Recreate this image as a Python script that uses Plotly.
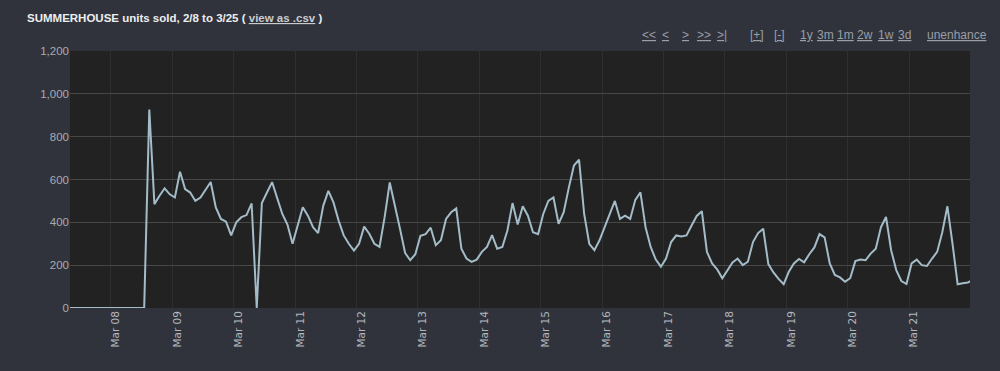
import pandas as pd
import plotly.graph_objects as go

# ---- data (2-hour samples) ----
start_time = "2021-03-07 07:00"
step = "2h"
leading_zeros = [0] * 16
units_sold = [
    927, 485, 524, 559, 531, 516, 636, 555, 539, 500, 516, 554, 588, 470, 416, 403,
    339, 400, 424, 434, 488, 0, 490, 539, 588, 513, 439, 390, 300, 385, 470, 431,
    377, 350, 477, 547, 493, 408, 339, 300, 268, 300, 380, 347, 300, 285, 424, 586,
    470, 370, 257, 223, 251, 337, 345, 375, 293, 316, 416, 447, 465, 277, 231, 215,
    226, 262, 285, 340, 277, 285, 362, 490, 390, 475, 431, 354, 345, 439, 500, 516,
    393, 447, 562, 665, 693, 439, 300, 270, 316, 380, 443, 500, 416, 431, 416, 505,
    540, 377, 285, 226, 193, 231, 308, 339, 334, 339, 385, 430, 452, 262, 208, 180,
    139, 177, 213, 231, 200, 216, 308, 350, 370, 205, 166, 136, 111, 169, 208, 229,
    213, 251, 283, 345, 330, 208, 154, 143, 123, 139, 219, 226, 223, 254, 277, 377,
    425, 270, 177, 126, 112, 208, 226, 200, 196, 231, 262, 354, 475, 300, 111, 116,
    119, 131,
]
values = leading_zeros + units_sold
times = pd.date_range(start_time, periods=len(values), freq=step)

x_range = ["2021-03-07 08:00", "2021-03-21 23:50"]
y_ticks = [0, 200, 400, 600, 800, 1000, 1200]

title_text = "SUMMERHOUSE units sold, 2/8 to 3/25"
nav_links = ["<<", "<", ">", ">>", ">|", "[+]", "[-]", "1y", "3m", "1m", "2w", "1w", "3d", "unenhance"]
nav_px = [649, 665.5, 685.5, 703.5, 722, 756.5, 779, 806.5, 825, 845.5, 865, 885.5, 904, 956.5]

BG = "#30333b"
PLOT_BG = "#222222"
LINE = "#a3bcc8"
TXT = "#a8abb1"

L, R, T, B = 70, 30, 51, 63
PW, PH = 1000 - L - R, 371 - T - B

fig = go.Figure()
fig.add_trace(go.Scatter(
    x=times, y=values, mode="lines",
    line=dict(color=LINE, width=2), hoverinfo="skip", showlegend=False,
))

fig.update_layout(
    width=1000, height=371,
    paper_bgcolor=BG, plot_bgcolor=PLOT_BG,
    margin=dict(l=L, r=R, t=T, b=B),
    font=dict(family="Liberation Sans, Arial, sans-serif", size=11, color=TXT),
    showlegend=False,
)
fig.update_xaxes(
    range=x_range, type="date", dtick=86400000, tick0="2021-03-08",
    tickformat="%b %d", tickangle=-90, ticklabelshift=5,
    showgrid=True, gridcolor="#2f2f2f", gridwidth=1,
    zeroline=False, showline=False, ticks="",
    tickfont=dict(family="DejaVu Sans, sans-serif", size=10.5, color="#b4b7bd"),
)
fig.update_yaxes(
    range=[0, 1200], tickvals=y_ticks, tickformat=",",
    showgrid=True, gridcolor="#474747", gridwidth=1,
    zeroline=False, showline=False, ticks="",
    tickfont=dict(size=11.5, color=TXT),
)

fig.add_annotation(
    x=(25 - L) / PW, y=1 + (T - 18) / PH, xref="paper", yref="paper",
    xanchor="left", yanchor="middle",
    text=("<b>" + title_text + " ( "
          + "<span style='color:#c9cbcf'><u>view as .csv</u></span> )</b>"),
    showarrow=False, font=dict(size=11.5, color="#eceef0"),
)
for lab, xp in zip(nav_links, nav_px):
    fig.add_annotation(
        x=(xp - L) / PW, y=1 + (T - 35) / PH, xref="paper", yref="paper",
        xanchor="center", yanchor="middle",
        text="<u>" + lab.replace("<", "&lt;").replace(">", "&gt;") + "</u>",
        showarrow=False, font=dict(size=12, color="#9a9ea6"),
    )

fig.write_html(
    "out.html",
    config={"displayModeBar": False},
    post_script="document.body.style.margin='0';document.body.style.background='#30333b';",
)
